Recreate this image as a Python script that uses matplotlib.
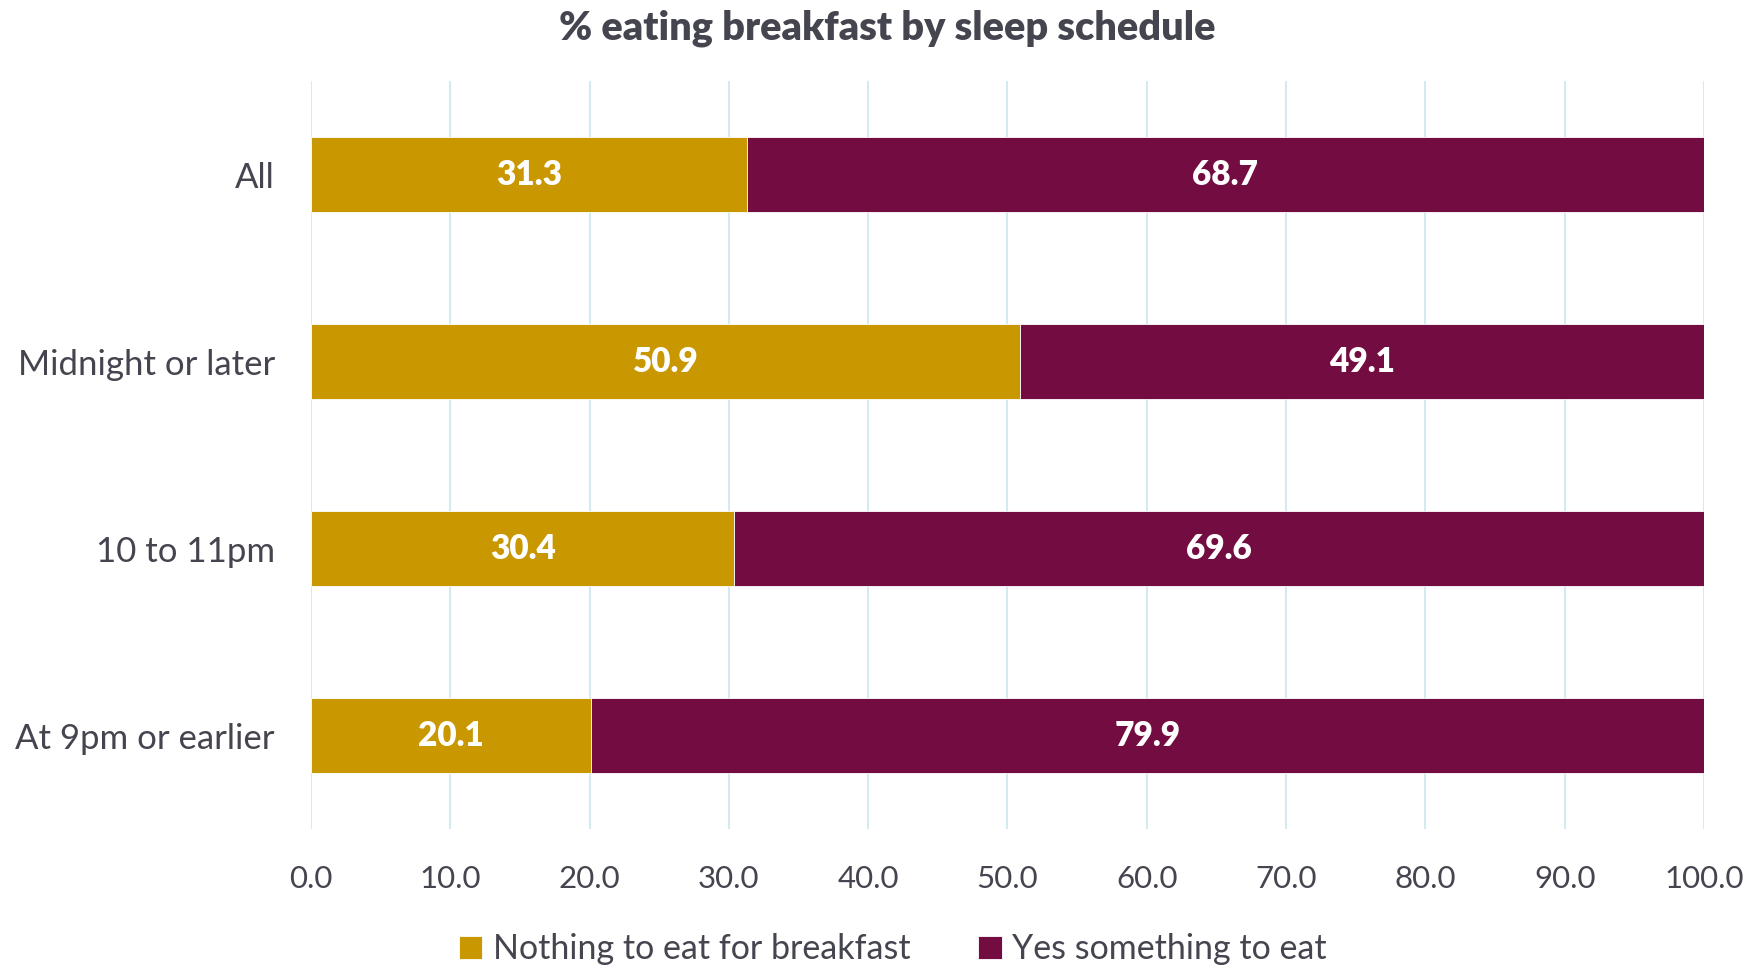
import numpy as np
import matplotlib.pyplot as plt

plt.rcParams['font.family'] = ['Lato', 'DejaVu Sans']

categories = ['All', 'Midnight or later', '10 to 11pm', 'At 9pm or earlier']
nothing = [31.3, 50.9, 30.4, 20.1]
something = [68.7, 49.1, 69.6, 79.9]
series_names = ['Nothing to eat for breakfast', 'Yes something to eat']
colors = ['#C99700', '#730C41']
text_color = '#44454F'

fig = plt.figure(figsize=(17.61, 9.66), dpi=100)
ax = fig.add_axes([0.1766, 0.1418, 0.7910, 0.7743])

y = np.arange(len(categories))
b1 = ax.barh(y, nothing, height=0.4, color=colors[0], edgecolor='white',
             linewidth=0.6, label=series_names[0], zorder=3)
b2 = ax.barh(y, something, left=nothing, height=0.4, color=colors[1],
             edgecolor='white', linewidth=0.6, label=series_names[1], zorder=3)

# value labels centred in each segment
for bars in (b1, b2):
    ax.bar_label(bars, labels=[f'{b.get_width():.1f}' for b in bars],
                 label_type='center', color='white', fontsize=24,
                 fontweight='heavy')

ax.set_xlim(0, 100)
ax.set_ylim(len(categories) - 0.5, -0.5)
ax.set_xticks(np.arange(0, 101, 10))
ax.set_xticklabels([f'{v:.1f}' for v in np.arange(0, 101, 10)])
ax.set_yticks(y)
ax.set_yticklabels(categories)
ax.tick_params(axis='x', length=0, labelsize=22.5, colors=text_color, pad=26)
ax.tick_params(axis='y', length=0, labelsize=25, colors=text_color, pad=26)
ax.grid(axis='x', color='#D4EAF1', linewidth=1.5, zorder=0)
for s in ax.spines.values():
    s.set_visible(False)

fig.suptitle('% eating breakfast by sleep schedule', x=0.504, y=0.99,
             fontsize=28.5, fontweight='heavy', color=text_color)

fig.legend(loc='lower center', bbox_to_anchor=(0.507, -0.031), ncol=2,
           frameon=False, fontsize=24.5, handlelength=0.7, handleheight=0.7,
           handletextpad=0.3, columnspacing=2.0, labelcolor=text_color)

fig.savefig('out.png', dpi=100)
